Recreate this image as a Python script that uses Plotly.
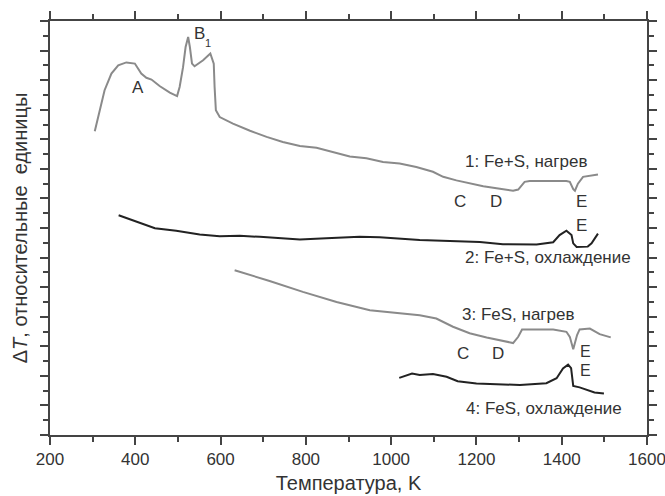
import plotly.graph_objects as go

# Curve 1: Fe+S heating (grey)
t1 = [305, 317, 328, 344, 360, 379, 387, 399, 414, 426, 438, 457, 481, 498, 504, 512, 518, 524, 528, 533,
      539, 559, 576, 584, 586, 589, 598, 629, 669, 708, 746, 786, 825, 864, 903, 942, 981, 1020, 1059,
      1098, 1122, 1153, 1184, 1216, 1255, 1286, 1298, 1313, 1325, 1411, 1419, 1427, 1431, 1438, 1450,
      1466, 1485]
v1 = [10.27, 10.98, 11.66, 12.22, 12.50, 12.60, 12.59, 12.56, 12.22, 12.08, 12.02, 11.80, 11.58, 11.46,
      11.77, 12.44, 13.12, 13.46, 13.12, 12.56, 12.47, 12.67, 12.90, 12.56, 11.77, 10.98, 10.75, 10.53,
      10.29, 10.08, 9.91, 9.77, 9.71, 9.57, 9.42, 9.36, 9.23, 9.18, 9.06, 8.90, 8.73, 8.61, 8.52, 8.41,
      8.33, 8.26, 8.30, 8.56, 8.59, 8.59, 8.56, 8.31, 8.26, 8.50, 8.73, 8.77, 8.81]

# Curve 2: Fe+S cooling (black)
t2 = [361, 395, 446, 496, 551, 598, 645, 692, 786, 848, 926, 973, 1067, 1208, 1262, 1341, 1380, 1395,
      1411, 1423, 1427, 1435, 1461, 1470, 1485]
v2 = [7.43, 7.26, 6.99, 6.91, 6.78, 6.72, 6.74, 6.70, 6.61, 6.65, 6.70, 6.69, 6.59, 6.53, 6.45, 6.44,
      6.52, 6.76, 6.91, 6.76, 6.48, 6.36, 6.37, 6.48, 6.81]

# Curve 3: FeS heating (grey)
t3 = [633, 715, 793, 872, 950, 1012, 1067, 1106, 1145, 1184, 1224, 1286, 1298, 1307, 1380, 1411, 1419,
      1427, 1436, 1442, 1466, 1489, 1515]
v3 = [5.57, 5.21, 4.84, 4.50, 4.22, 4.12, 4.05, 3.94, 3.66, 3.44, 3.30, 3.11, 3.32, 3.57, 3.57, 3.49,
      3.32, 2.90, 3.38, 3.57, 3.60, 3.41, 3.30]

# Curve 4: FeS cooling (black)
t4 = [1019, 1049, 1067, 1098, 1130, 1156, 1200, 1255, 1302, 1364, 1388, 1403, 1415, 1422, 1425, 1427,
      1442, 1462, 1477, 1499]
v4 = [1.93, 2.08, 2.03, 2.06, 1.97, 1.82, 1.74, 1.71, 1.69, 1.75, 1.92, 2.25, 2.38, 2.26, 1.86, 1.66,
      1.61, 1.52, 1.44, 1.40]

x_ticks = [200, 400, 600, 800, 1000, 1200, 1400, 1600]

GREY = "#8a8a8a"
BLACK = "#222222"
TXT = "#333333"
AX = "#444444"
FONT = "Arial, Liberation Sans, sans-serif"

fig = go.Figure()
fig.add_trace(go.Scatter(x=t1, y=v1, mode="lines", line=dict(color=GREY, width=2), name="1"))
fig.add_trace(go.Scatter(x=t2, y=v2, mode="lines", line=dict(color=BLACK, width=2), name="2"))
fig.add_trace(go.Scatter(x=t3, y=v3, mode="lines", line=dict(color=GREY, width=2), name="3"))
fig.add_trace(go.Scatter(x=t4, y=v4, mode="lines", line=dict(color=BLACK, width=2), name="4"))

labels = [
    ("A", 406, 11.76, 17),
    ("B", 551, 13.58, 17),
    ("1", 571, 13.24, 11),
    ("1: Fe+S, нагрев", 1317, 9.24, 17),
    ("C", 1161, 7.88, 17),
    ("D", 1245, 7.88, 17),
    ("E", 1447, 7.88, 17),
    ("E", 1447, 7.09, 17),
    ("2: Fe+S, охлаждение", 1368, 6.0, 17),
    ("3: FeS, нагрев", 1299, 4.09, 17),
    ("C", 1169, 2.76, 17),
    ("D", 1251, 2.76, 17),
    ("E", 1456, 2.82, 16),
    ("E", 1456, 2.18, 16),
    ("4: FeS, охлаждение", 1358, 0.88, 17),
]
for txt, x, y, fs in labels:
    fig.add_annotation(x=x, y=y, text=txt, showarrow=False, xanchor="center", yanchor="middle",
                       font=dict(family=FONT, size=fs, color=TXT))

axis_common = dict(showline=True, linecolor=AX, linewidth=1.5, mirror="allticks", ticks="outside",
                   tickcolor=AX, tickwidth=1.5, ticklen=8, showgrid=False, zeroline=False,
                   automargin=False)

fig.update_xaxes(range=[200, 1600], tickvals=x_ticks, ticktext=[str(v) for v in x_ticks],
                 tickfont=dict(family=FONT, size=17, color=TXT), ticklabeloverflow="allow",
                 minor=dict(dtick=100, tick0=200, ticks="outside", ticklen=5, tickcolor=AX, tickwidth=1.5),
                 title=dict(text="Температура, K", font=dict(family=FONT, size=20, color=TXT), standoff=8),
                 **axis_common)
fig.update_yaxes(range=[0, 14], tick0=0, dtick=1, showticklabels=False,
                 minor=dict(dtick=0.5, tick0=0, ticks="outside", ticklen=5, tickcolor=AX, tickwidth=1.5),
                 title=dict(text="Δ<i>T</i>, относительные\u00a0\u00a0единицы",
                            font=dict(family=FONT, size=20, color=TXT), standoff=7),
                 **axis_common)

fig.update_layout(width=665, height=496, margin=dict(l=50, r=18, t=21, b=61),
                  plot_bgcolor="white", paper_bgcolor="white", showlegend=False)

fig.write_html("out.html", config={"displayModeBar": False},
               post_script="document.body.style.margin='0';document.body.style.overflow='hidden';")
